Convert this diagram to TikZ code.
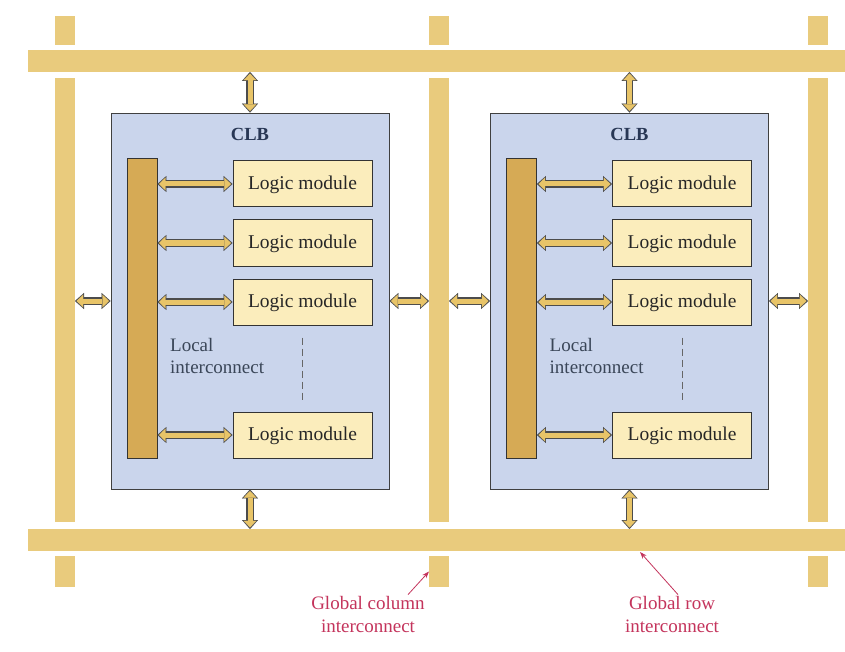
\documentclass[tikz,border=0pt]{standalone}
\usepackage{fontspec}
\setmainfont{Liberation Serif}
\usetikzlibrary{arrows.meta,calc}

\definecolor{barYel}{RGB}{233,203,125}
\definecolor{lbarYel}{RGB}{214,170,85}
\definecolor{clbBlue}{RGB}{202,213,236}
\definecolor{modYel}{RGB}{251,237,188}
\definecolor{arrYel}{RGB}{232,196,104}
\definecolor{lblRed}{RGB}{196,52,92}
\definecolor{txtSlate}{RGB}{58,70,88}
\definecolor{clbNavy}{RGB}{40,55,85}

\tikzset{
  gbar/.style={fill=barYel, inner sep=0pt, outer sep=0pt},
  clbbox/.style={draw=black!75, line width=0.9pt, fill=clbBlue, minimum width=278pt, minimum height=376pt, inner sep=0pt},
  lbar/.style={draw=black!80, line width=0.8pt, fill=lbarYel, minimum width=30pt, minimum height=300pt, inner sep=0pt},
  logicmod/.style={draw=black!80, line width=1pt, fill=modYel, minimum width=139pt, minimum height=46pt, inner sep=0pt, text height=13pt, text depth=2pt, font=\fontsize{19.5}{22}\selectfont, text=black!85},
  fatarrow/.style={draw=arrYel, line width=5pt,
    {Triangle[width=12.5pt,length=6.5pt,line width=0.1pt]}-{Triangle[width=12.5pt,length=6.5pt,line width=0.1pt]},
    shorten <=1.6pt, shorten >=1.6pt,
    preaction={draw=black!70, line width=7.6pt, shorten <=0pt, shorten >=0pt,
      {Triangle[width=16pt,length=9pt,line width=0.1pt]}-{Triangle[width=16pt,length=9pt,line width=0.1pt]}}},
  pointer/.style={draw=lblRed, line width=0.8pt, -{Stealth[length=7pt,width=5pt]}},
  glabel/.style={font=\fontsize{19}{23}\selectfont, text=lblRed, align=center, inner sep=1pt},
}

\begin{document}
\begin{tikzpicture}[x=1pt,y=-1pt]
\useasboundingbox (0,0) rectangle (845,652);
\fill[white] (0,0) rectangle (845,652);

% global rows
\node[gbar, minimum width=817pt, minimum height=22pt] (toprow) at (436.5,61) {};
\node[gbar, minimum width=817pt, minimum height=22pt] (botrow) at (436.5,540) {};

% global columns
\foreach \cl/\x in {L/65,M/439,R/818} {
  \node[gbar, minimum width=20pt, minimum height=29pt] (col\cl-t) at (\x,30.5) {};
  \node[gbar, minimum width=20pt, minimum height=444pt] (col\cl) at (\x,300) {};
  \node[gbar, minimum width=20pt, minimum height=31pt] (col\cl-b) at (\x,571.5) {};
}

% the two CLBs
\foreach \bk/\x in {A/250,B/629.5} {
  \node[clbbox] (clb\bk) at (\x,301) {};
  \node[font=\bfseries\fontsize{18.5}{22}\selectfont, text=clbNavy] (clb\bk-name) at (\x,134) {CLB};
  \node[lbar] (lbar\bk) at (\x-108,308) {};
  \foreach \m/\y in {1/184,2/243,3/302,4/435} {
    \node[logicmod] (mod\bk\m) at (\x+52.5,\y) {Logic module};
    \draw[fatarrow] (mod\bk\m.west -| lbar\bk.east) -- (mod\bk\m.west);
  }
  \draw[black!60, line width=0.8pt, dash pattern=on 7pt off 4pt]
    ([yshift=-12pt]mod\bk3.south) -- ([yshift=9pt]mod\bk4.north);
  \node[anchor=west, align=left, inner sep=0pt, text=txtSlate, font=\fontsize{19}{22}\selectfont] (local\bk) at (\x-80,356) {Local\\interconnect};
  \draw[fatarrow] (clb\bk.north |- toprow.south) -- (clb\bk.north);
  \draw[fatarrow] (clb\bk.south) -- (clb\bk.south |- botrow.north);
}

% links to the global columns
\draw[fatarrow] (clbA.west -| colL.east) -- (clbA.west);
\draw[fatarrow] (clbA.east) -- (clbA.east -| colM.west);
\draw[fatarrow] (clbB.west -| colM.east) -- (clbB.west);
\draw[fatarrow] (clbB.east) -- (clbB.east -| colR.west);

% labels
\node[glabel] (gcol) at (368,614) {Global column\\interconnect};
\node[glabel] (grow) at (672,614) {Global row\\interconnect};
\coordinate (rowtip) at (640,552);
\draw[pointer] ([xshift=40pt]gcol.north) -- (colM-b.west);
\draw[pointer] ([xshift=6pt]grow.north) -- (rowtip);

\end{tikzpicture}
\end{document}
